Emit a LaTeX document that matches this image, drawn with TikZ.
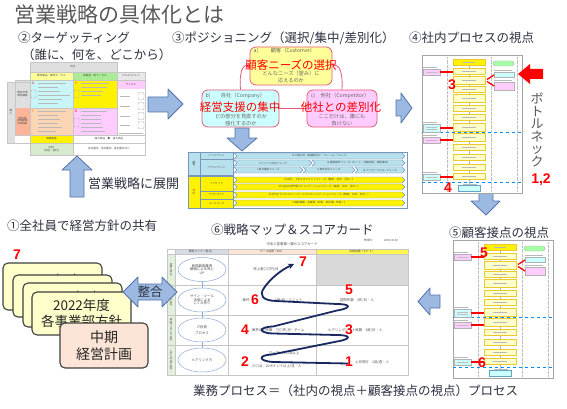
\documentclass[tikz,border=0pt]{standalone}
\usepackage{fontspec}
\setmainfont{Noto Sans CJK JP}
\newfontfamily\numfont{Liberation Sans}
\usetikzlibrary{arrows.meta,shapes.geometric}
\definecolor{ttl}{RGB}{89,89,89}
\definecolor{sec}{RGB}{45,50,65}
\definecolor{arrfill}{RGB}{155,185,225}
\definecolor{arrdraw}{RGB}{85,115,170}
\definecolor{redm}{RGB}{255,0,0}
\definecolor{navy}{RGB}{25,40,95}
\definecolor{lyel}{RGB}{255,255,153}
\definecolor{lcyan}{RGB}{204,255,255}
\definecolor{lpink}{RGB}{255,204,255}
\definecolor{pborder}{RGB}{230,90,120}
\definecolor{cardy}{RGB}{255,255,204}
\definecolor{cardp}{RGB}{252,228,214}
\definecolor{chevb}{RGB}{183,225,236}
\definecolor{chevd}{RGB}{120,150,190}
\definecolor{tgreen}{RGB}{170,235,150}
\definecolor{tgreen2}{RGB}{216,234,206}
\definecolor{torange}{RGB}{252,213,180}
\definecolor{tcyan}{RGB}{200,245,248}
\definecolor{sgreen}{RGB}{226,239,218}
\definecolor{shead}{RGB}{214,220,228}
\definecolor{ell}{RGB}{142,169,219}
\newcommand{\fsz}[1]{\fontsize{#1}{#1}\selectfont}
\tikzset{
 blockarrow/.style={fill=arrfill, draw=arrdraw, line width=0.8pt, line join=round},
 sectitle/.style={text=sec, font=\fsz{12.5}, inner sep=0, anchor=west},
 posbox/.style={draw=pborder, line width=0.8pt, rounded corners=6pt},
 pline/.style={draw=pborder, line width=0.8pt},
 postxt/.style={text=black!60, font=\fsz{5.2}, inner sep=0},
 redbig/.style={text=redm, font=\fsz{11.5}, inner sep=0},
 rednum/.style={text=redm, font=\numfont\bfseries\fsz{14}, inner sep=0},
 card/.style={draw=black!75, line width=1.1pt, rounded corners=5pt, fill=cardy, inner sep=0},
 cardtxt/.style={font=\fsz{13.5}, inner sep=0, text=black!85},
 tinyt/.style={font=\fsz{2.6}, inner sep=0, text=black!70},
 sct/.style={font=\fsz{3.4}, inner sep=0, text=black!70},
 txtline/.style={gray!55, line width=0.5pt},
 fcframe/.style={draw=gray!70, fill=white, line width=0.6pt, inner sep=0},
 fcdot/.style={gray!50, line width=0.3pt, densely dotted},
 fcdash/.style={blue!45!cyan, line width=0.7pt, dashed},
 fcline/.style={gray!60, line width=0.4pt},
 fcbox/.style={draw=yellow!60!brown, fill=cardy, line width=0.4pt, minimum width=32, minimum height=6, inner sep=0},
 fcside/.style={draw=gray!60, line width=0.4pt, minimum width=17, minimum height=6, inner sep=0},
 fcred/.style={redm, line width=1.3pt},
}
\newcommand{\chev}[6]{%
 \path[draw=chevd, line width=0.4pt, fill=#5] (#1,#3) -- ({#2-3},#3) -- (#2,{(#3+#4)/2}) -- ({#2-3},#4) -- (#1,#4) -- ({#1+3},{(#3+#4)/2}) -- cycle;
 \node[tinyt] at ({(#1+#2)/2},{(#3+#4)/2}) {#6};}
\newcommand{\flowchart}[3]{%
\begin{scope}[shift={(#2,#3)}]
 \node[fcframe, minimum width=100, minimum height=138, anchor=north west] (#1frame) at (0,0) {};
 \foreach \x in {25,69,95} {\draw[fcdot] (\x,2) -- (\x,136);}
 \draw[fcdash] (0,77) -- (100,77);
 \draw[fcdash] (0,127) -- (100,127);
 \draw[fcline] (47,7) -- (47,133);
 \node[fcbox, fill=yellow] (#1s) at (47,7) {};
 \draw[txtline] (41,7) -- (53,7);
 \foreach \y/\h in {16/6,25/8,34/6,43/8,53/6,62/6,72/8,82/8,92/6,102/6,112/6,121/6}
   {\node[fcbox, minimum height=\h] at (47,\y) {}; \draw[txtline] (40,\y) -- (54,\y);}
 \node[fcbox, fill=lcyan, draw=cyan!50!gray, minimum width=22] (#1e) at (47,133) {};
 \draw[txtline] (41,129) -- (55,129);
 \node[fcside, fill=lpink] (#1l1) at (9.5,17) {};
 \node[fcside, fill=lcyan, minimum height=8] (#1l2) at (9.5,73) {};
 \node[fcside, fill=lpink] (#1l3) at (9.5,85) {};
 \node[fcside, fill=lcyan] (#1l4) at (9.5,122) {};
 \foreach \y in {12,67,80,117} {\draw[txtline] (1,\y) -- (15,\y);}
 \foreach \y in {17,72,74,85,122} {\draw[gray!50, line width=0.4pt] (4,\y) -- (15,\y);}
 \node[fcside, fill=green!35, rounded corners=2.5pt, minimum width=21, minimum height=5] (#1r1) at (81.5,8.5) {};
 \node[fcside, fill=lcyan, minimum width=20, minimum height=5] (#1r2) at (82,19.5) {};
 \node[fcside, fill=lpink, minimum width=20, minimum height=8] (#1r3) at (82,31) {};
 \draw[txtline] (72,15) -- (90,15);
 \draw[txtline] (72,25) -- (90,25);
 \draw[fcred] (18,17) -- (31,17);
 \draw[fcred] (18,73) -- (31,73);
 \draw[fcred] (18,85) -- (31,85);
 \draw[fcred] (18,122) -- (31,122);
 \draw[fcred] (72,20) -- (65,24.5);
 \draw[fcred] (65,26.5) -- (72,31);
\end{scope}}
\begin{document}
\begin{tikzpicture}[x=1pt,y=-1pt]
\useasboundingbox (0,0) rectangle (567,409);
\fill[white] (0,0) rectangle (567,409);

% ---------- titles ----------
\node[text=ttl, font=\fsz{21}, inner sep=0, anchor=west] (title) at (14,14) {営業戦略の具体化とは};
\node[sectitle] (t2) at (18,38) {②ターゲッティング};
\node[sectitle] (t2b) at (22,55) {（誰に、何を、どこから）};
\node[sectitle] (t3) at (172,38) {③ポジショニング（選択/集中/差別化）};
\node[sectitle] (t4) at (409,38) {④社内プロセスの視点};
\node[sectitle] (t5) at (449,233) {⑤顧客接点の視点};
\node[sectitle] (t6) at (211,230) {⑥戦略マップ＆スコアカード};
\node[sectitle] (t1) at (7,226) {①全社員で経営方針の共有};
\node[sectitle, font=\fsz{13}] (tex) at (88,184) {営業戦略に展開};
\node[sectitle] (tbot) at (193,391) {業務プロセス＝（社内の視点＋顧客接点の視点）プロセス};

% ---------- targeting table ----------
\fill[gray!25] (30,62) rectangle (117,72);
\node[tinyt] (tg0) at (73,67) {何を};
\fill[lyel] (30,72) rectangle (73,80);
\node[tinyt] (tg1) at (51.5,76) {既存製品・既存サービス};
\fill[tgreen] (73,72) rectangle (117,80);
\node[tinyt] (tg2) at (95,76) {新製品・新サービス};
\fill[gray!18] (117,72) rectangle (145,80);
\node[tinyt] (tg3) at (131,76) {どのようにして};
\fill[tcyan] (30,80) rectangle (73,108);
\fill[yellow] (73,80) rectangle (117,108);
\fill[lpink] (117,80) rectangle (145,89);
\node[tinyt] (tg4) at (131,84.5) {チャネル};
\fill[torange] (30,108) rectangle (73,135);
\fill[lpink] (73,108) rectangle (117,135);
\fill[gray!25] (7,82) rectangle (15,143);
\node[tinyt, align=center] (tg5) at (11,112) {誰\\に};
\fill[gray!25] (15,80) rectangle (30,108);
\node[tinyt, align=center] (tg6) at (22.5,94) {既存市場\\既存顧客};
\fill[torange!85!red] (15,108) rectangle (30,135);
\node[tinyt, align=center] (tg7) at (22.5,121) {新市場\\新規顧客\\（未開拓）};
\fill[yellow] (30,135) rectangle (73,143);
\node[tinyt] (tg8) at (51.5,139) {価値創造};
\node[tinyt] (tg9) at (109,139) {強み商品　◆　強み商品};
\fill[tgreen2] (30,143) rectangle (73,155);
\node[tinyt, align=center] (tg10) at (51.5,149) {PMO\\（自社・他社）};
\node[tinyt] (tg11) at (109,149) {自社優位、他社優位、差別優位など};
\draw[gray!45, line width=0.4pt] (30,62) rectangle (117,72) (30,72) rectangle (145,155)
  (73,72) -- (73,155) (117,72) -- (117,135) (30,80) -- (145,80) (30,108) -- (117,108)
  (30,135) -- (145,135) (30,143) -- (145,143) (7,82) rectangle (30,143) (15,80) rectangle (30,135);
\node[tinyt, text=red, font=\fsz{3.5}] (ta) at (33,83) {A};
\node[tinyt, text=orange, font=\fsz{3.5}] (tb) at (76,83) {B};
\node[tinyt, text=orange, font=\fsz{3.5}] (tc) at (33,111) {C};
\node[tinyt, text=red, font=\fsz{3.5}] (td) at (76,111) {D};
\foreach \y/\l in {83/28,87/20,91/22,95/32,99/24,103/20} {\draw[txtline] (38,\y) -- ++(\l,0);}
\foreach \y/\l in {83/28,87/26,91/22,95/20} {\draw[txtline] (81,\y) -- ++(\l,0);}
\foreach \y/\l in {111/28,115/20,119/22,123/20,127/24,131/18} {\draw[txtline] (38,\y) -- ++(\l,0);}
\foreach \y/\l in {111/26,115/20,119/20,123/20,127/22,131/24} {\draw[txtline] (81,\y) -- ++(\l,0);}
\foreach \y in {96,106,116,125} {\draw[txtline] (120,\y) -- ++(10,0); \draw[gray!60, line width=0.4pt, rounded corners=1pt] (138,\y-3.5) rectangle (144,\y+3.5);}
\draw[txtline] (119,133) -- (143,133);
\draw[gray!60, line width=0.4pt, rounded corners=1pt] (31,90) rectangle (36,98) (74,90) rectangle (79,98) (74,118) rectangle (79,127);

% ---------- block arrows ----------
\draw[blockarrow] (148,97) -- (168,97) -- (168,89) -- (183,104) -- (168,119) -- (168,112) -- (148,112) -- cycle;
\draw[blockarrow] (235,128) -- (249,128) -- (249,138) -- (257,138) -- (242,151) -- (227,138) -- (235,138) -- cycle;
\draw[blockarrow] (396,100) -- (401,100) -- (401,93) -- (412,108) -- (401,123) -- (401,116) -- (396,116) -- cycle;
\draw[blockarrow] (70,197) -- (70,170) -- (62,170) -- (77,156) -- (92,170) -- (84,170) -- (84,197) -- cycle;
\draw[blockarrow] (479,193) -- (493,193) -- (493,201) -- (500,201) -- (486,215) -- (471,201) -- (479,201) -- cycle;
\draw[blockarrow] (440,295) -- (430,295) -- (430,288) -- (418,301.5) -- (430,315) -- (430,308) -- (440,308) -- cycle;

% ---------- positioning ----------
\node[posbox, fill=lyel, minimum width=82, minimum height=38] (pa) at (291,66) {};
\node[posbox, fill=lcyan, minimum width=77, minimum height=37] (pb) at (240.5,108.5) {};
\node[posbox, fill=lpink, minimum width=70, minimum height=37] (pc) at (342,108.5) {};
\draw[pline] (pb.north) .. controls (239,75) and (242,62) .. (pa.west);
\draw[pline] (pc.north) .. controls (343,75) and (340,62) .. (pa.east);
\draw[pline] (pb.east) -- (pc.west);
\node[postxt] (pa0) at (256,51) {a)};
\node[postxt] (pa1) at (293,51) {顧客（Customer）};
\node[postxt] (pa3) at (291,73.5) {どんなニーズ（望み）に};
\node[postxt] (pa4) at (291,80.5) {応えるのか};
\node[postxt] (pb0) at (208,96) {b)};
\node[postxt] (pb1) at (243,96) {自社（Company）};
\node[postxt] (pb3) at (241,116.5) {どの部分を見直すのか};
\node[postxt] (pb4) at (241,123.5) {強化するのか};
\node[postxt] (pc0) at (313,96) {c)};
\node[postxt] (pc1) at (345,96) {他社（Competitor）};
\node[postxt] (pc3) at (342,116.5) {ここだけは、誰にも};
\node[postxt] (pc4) at (342,123.5) {負けない};
\node[redbig] (ra) at (291,65) {顧客ニーズの選択};
\node[redbig] (rb) at (240,107) {経営支援の集中};
\node[redbig] (rc) at (341,107) {他社との差別化};

% ---------- process chevron chart ----------
\draw[chevd, line width=0.5pt, fill=white] (188,152) rectangle (407,208);
\draw[draw=chevd, line width=0.4pt, fill=chevb] (188,152) rectangle (200,175);
\node[tinyt, align=center] (cl1) at (194,163.5) {顧\\客};
\draw[draw=chevd, line width=0.4pt, fill=yellow] (188,176) rectangle (200,208);
\node[tinyt, align=center] (cl2) at (194,192) {社\\内};
\draw[draw=chevd, line width=0.4pt, fill=chevb] (200,152) rectangle (233,159);
\node[tinyt] (cl3) at (216.5,155.5) {インバウンド};
\draw[draw=chevd, line width=0.4pt, fill=chevb] (200,159) rectangle (233,175);
\node[tinyt] (cl4) at (216.5,167) {アウトバウンド};
\draw[draw=chevd, line width=0.4pt, fill=yellow] (200,176) rectangle (233,191);
\node[tinyt] (cl5) at (216.5,183.5) {インサイド};
\draw[draw=chevd, line width=0.4pt, fill=yellow] (200,191) rectangle (233,199);
\node[tinyt] (cl6) at (216.5,195) {アウトサイド};
\draw[draw=chevd, line width=0.4pt, fill=yellow] (200,199) rectangle (233,208);
\node[tinyt] (cl7) at (216.5,203.5) {ルールベース};
\chev{234}{405}{153}{159}{chevb}{IV.日常対応（各種問合せ・クレーム）フェーズ}
\chev{234}{312}{160}{166}{chevb}{V.イベント対応フェーズ}
\chev{312}{405}{160}{166}{chevb}{III.機能提供フェーズ（ルート・定期訪問・関係維持）}
\chev{234}{303}{167}{173}{chevb}{I.新件獲得フェーズ}
\chev{303}{355}{167}{173}{chevb}{II.新件対応フェーズ}
\chev{355}{405}{167}{173}{chevb}{III.アフターフォローフェーズ}
\chev{234}{405}{177}{183}{yellow}{VI.自己・上司マネジメントフェーズ（随時、日次、月次ー）}
\chev{234}{405}{184}{190}{yellow}{VII.社内の部門間コミュニケーションフェーズ（随時、日次、月次ー）}
\chev{234}{405}{192}{198}{yellow}{IX.社外のビジネスパートナーとのコミュニケーションフェーズ（随時、日次、月次ー）}
\chev{234}{405}{200}{206}{yellow}{X.商談業務・会議等（日常、四半期、年度ー）}

% ---------- flowcharts 4 and 5 ----------
\flowchart{fa}{422}{55}
\flowchart{fb}{453}{240}
\fill[redm] (543,69) -- (530,69) -- (530,64) -- (518,74) -- (530,84) -- (530,79) -- (543,79) -- cycle;
\node[text=ttl, font=\fsz{13}, inner sep=0, align=center] (bn) at (537,130) {ボ\\[-0.5pt]ト\\[-0.5pt]ル\\[-0.5pt]ネ\\[-0.5pt]ッ\\[-0.5pt]ク};
\node[rednum] (n12) at (541,180) {1,2};
\node[rednum] (fa3) at (452,85) {3};
\node[rednum] (fa4) at (448,188) {4};
\node[rednum] (fb5) at (484,253) {5};
\node[rednum] (fb6) at (482,363) {6};

% ---------- scorecard ----------
\node[sct] (sct0) at (292,244) {中法人営業第一課のスコアカード};
\node[sct, font=\fsz{2.8}] (sct1) at (368,240) {作成日};
\node[sct, font=\fsz{2.8}] (sct2) at (391,240) {2005.00.00};
\fill[sgreen] (167,254) rectangle (175,375);
\fill[shead] (175,249) rectangle (228,254);
\fill[cardp] (228,249) rectangle (316,254);
\fill[yellow!70] (316,249) rectangle (408,254);
\fill[gray!30] (316,254) rectangle (408,285);
\draw[gray!45, line width=0.5pt] (167,249) rectangle (408,375) (175,249) -- (175,375) (228,249) -- (228,375) (316,249) -- (316,375)
  (167,254) -- (408,254) (167,285) -- (408,285) (167,315) -- (408,315) (167,345) -- (408,345);
\node[sct, font=\fsz{2.8}] (sh1) at (201.5,251.5) {戦略マップ（視点）};
\node[sct, font=\fsz{2.8}] (sh2) at (272,251.5) {ゴール指標（KGI）};
\node[sct, font=\fsz{2.8}] (sh3) at (362,251.5) {目標指標（ＫＰＩ）};
\node[sct, font=\fsz{2.5}, rotate=-90] (sv1) at (171,269.5) {財務の視点};
\node[sct, font=\fsz{2.5}, rotate=-90] (sv2) at (171,300) {顧客の視点};
\node[sct, font=\fsz{2.5}, rotate=-90] (sv3) at (171,330) {業務プロセスの視点};
\node[sct, font=\fsz{2.5}, rotate=-90] (sv4) at (171,360) {人材と変革の視点};
\foreach \n/\y in {1/269.5,2/300,3/330,4/360} {\node[draw=ell, fill=white, ellipse, minimum width=48, minimum height=24, inner sep=0, line width=0.5pt] (e\n) at (202,\y) {};}
\draw[ell, line width=0.8pt] (e1) -- (e2) (e2) -- (e3) (e3) -- (e4);
\node[sct, align=center] (et1) at (202,269.5) {新規顧客獲得\\戦略による売上\\UP};
\node[sct, align=center] (et2) at (202,300) {サイン・ツール\\活用による\\しくみ作り};
\node[sct, align=center] (et3) at (202,330) {IT投資\\[2pt]プロセス};
\node[sct] (et4) at (202,360) {ヒアリング力};
\node[sct] (k1) at (266,269) {売上高〇〇円/月};
\node[sct] (k2a) at (246,300) {案件};
\node[sct, anchor=west] (k2b) at (275,300) {5件/月・ユニット};
\node[sct, anchor=west] (k3) at (252,330) {案件成約件数　〇〇件/月・チーム};
\node[sct] (k4) at (284,353) {ロープレ〇〇点以上};
\node[sct, anchor=west] (k5) at (252,366) {〇〇点：20ポイント以上/月・人};
\node[sct] (p2) at (357,300) {訪問件数　3件/日・人};
\node[sct, anchor=west] (p3) at (328,330) {ヒアリングシート枚数　2枚/日・人};
\node[sct, anchor=west] (p4) at (355,362) {上司同行　1回/週・人};
\draw[navy, line width=1.8pt, -{Stealth[length=6pt,width=6pt]}]
  (348,363.5) -- (273,362) .. controls (258,361) and (258,355) .. (272,354.5)
  -- (337,341.5) .. controls (352,339) and (351,335) .. (337,335)
  -- (273,333.5) .. controls (258,333) and (258,327) .. (273,326.5)
  -- (337,310.5) .. controls (352,308) and (351,304) .. (337,304)
  -- (276,301) .. controls (262,300.5) and (259,295) .. (264,288)
  .. controls (270,279) and (281,270) .. (294,264);
\node[rednum] (s1) at (349,362) {1};
\node[rednum] (s2) at (245,362) {2};
\node[rednum] (s3) at (349,330) {3};
\node[rednum] (s4) at (245,330) {4};
\node[rednum] (s5) at (349,290) {5};
\node[rednum] (s6) at (255,300) {6};
\node[rednum] (s7) at (303,262) {7};

% ---------- cards ----------
\node[rednum] (c7) at (17,255) {7};
\node[card, minimum width=99, minimum height=47] (c1) at (52.5,286.5) {};
\node[cardtxt] (c1a) at (52.5,280) {2022年度};
\node[card, minimum width=99, minimum height=42] (c2) at (62.5,296) {};
\node[cardtxt] (c2a) at (62.5,289) {2022年度};
\node[card, minimum width=99, minimum height=44] (c3) at (72.5,305) {};
\node[cardtxt] (c3a) at (72.5,297) {2022年度};
\node[card, minimum width=99, minimum height=43] (c4) at (81.5,313.5) {};
\node[cardtxt] (c4a) at (81.5,305) {2022年度};
\node[cardtxt] (c4b) at (81.5,321) {各事業部方針};
\node[card, fill=cardp, minimum width=88, minimum height=45] (c5) at (104,345.5) {};
\node[cardtxt, font=\fsz{14}] (c5a) at (104,337) {中期};
\node[cardtxt, font=\fsz{14}] (c5b) at (104,354) {経営計画};
\draw[blockarrow] (123,292) -- (138,277) -- (138,284) -- (162,284) -- (162,277) -- (177,292) -- (162,307) -- (162,300) -- (138,300) -- (138,307) -- cycle;
\node[text=sec, font=\fsz{12.5}, inner sep=0] (seigo) at (150,292) {整合};
\end{tikzpicture}
\end{document}
